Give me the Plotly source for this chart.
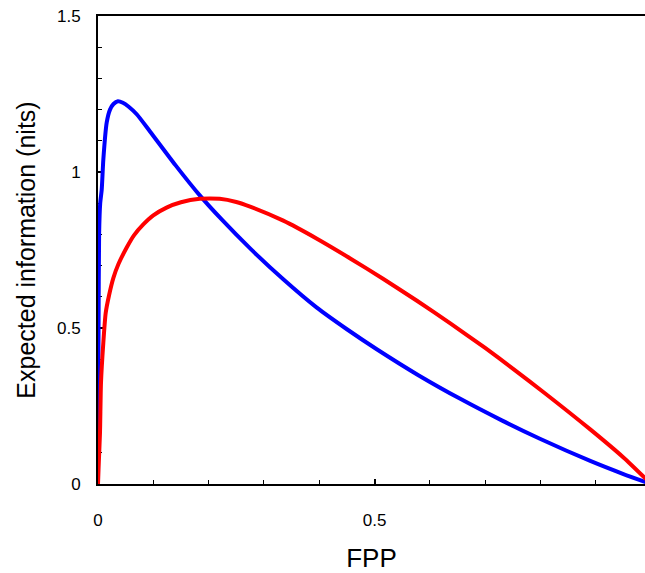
import plotly.graph_objects as go

# False positive probability (FPP) and expected information, in nits
fpp_blue = [0.0, 0.0005, 0.001, 0.002, 0.004, 0.0067, 0.0096, 0.0157, 0.0217, 0.028,
            0.036, 0.045, 0.055, 0.07, 0.094, 0.14, 0.184, 0.224, 0.275, 0.335,
            0.395, 0.45, 0.504, 0.58, 0.655, 0.73, 0.799, 0.89, 0.95, 1.0]
info_blue = [0.0, 0.32, 0.5, 0.8, 0.9, 0.943, 1.039, 1.158, 1.2, 1.218,
             1.227, 1.222, 1.21, 1.185, 1.13, 1.022, 0.925, 0.847, 0.755, 0.656,
             0.566, 0.496, 0.432, 0.348, 0.273, 0.204, 0.145, 0.074, 0.032, 0.0]

fpp_red = [0.0, 0.001, 0.0036, 0.0054, 0.0096, 0.0139, 0.02, 0.0277, 0.037, 0.0519,
           0.065, 0.0819, 0.1, 0.124, 0.15, 0.184, 0.22, 0.25, 0.275, 0.335,
           0.395, 0.456, 0.516, 0.576, 0.637, 0.7, 0.75, 0.808, 0.89, 0.95, 1.0]
info_red = [0.0, 0.05, 0.164, 0.324, 0.452, 0.548, 0.605, 0.66, 0.705, 0.758,
            0.797, 0.832, 0.861, 0.886, 0.903, 0.914, 0.914, 0.904, 0.889, 0.844,
            0.787, 0.723, 0.657, 0.588, 0.515, 0.436, 0.37, 0.291, 0.175, 0.085, 0.0]

x_ticks = [0, 0.5, 1]
x_tick_text = ["0", "0.5", "1"]
y_ticks = [0, 0.5, 1, 1.5]
y_tick_text = ["0", "0.5", "1", "1.5"]

FONT = "Liberation Sans, Arial, Helvetica, sans-serif"

fig = go.Figure()
fig.add_trace(go.Scatter(x=fpp_blue, y=info_blue, mode="lines",
                         line=dict(color="#0000ff", width=4, shape="spline", smoothing=0.6),
                         showlegend=False))
fig.add_trace(go.Scatter(x=fpp_red, y=info_red, mode="lines",
                         line=dict(color="#ff0000", width=4, shape="spline", smoothing=0.6),
                         showlegend=False))

axis_common = dict(
    showline=True, linecolor="black", linewidth=2,
    showgrid=False, zeroline=False,
    ticks="inside", ticklen=5, tickwidth=1.5, tickcolor="black",
    tickfont=dict(family=FONT, size=17, color="black"),
    layer="below traces",
    minor=dict(ticks="inside", ticklen=4, tickwidth=1.2, tickcolor="black", dtick=0.1),
)

fig.update_xaxes(
    range=[0, 0.989], tickvals=x_ticks, ticktext=x_tick_text,
    mirror=True, ticklabelstandoff=20,
    title=dict(text="FPP", font=dict(family=FONT, size=26, color="black"), standoff=22),
    **axis_common,
)
fig.update_yaxes(
    range=[0, 1.5], tickvals=y_ticks, ticktext=y_tick_text,
    ticklabelstandoff=12,
    title=dict(text="Expected information (nits)", font=dict(family=FONT, size=25, color="black"),
               standoff=14),
    **axis_common,
)

fig.update_layout(
    width=645, height=573,
    margin=dict(l=98, r=0, t=16, b=89, autoexpand=False),
    paper_bgcolor="white", plot_bgcolor="white",
)

fig.write_html("out.html")
